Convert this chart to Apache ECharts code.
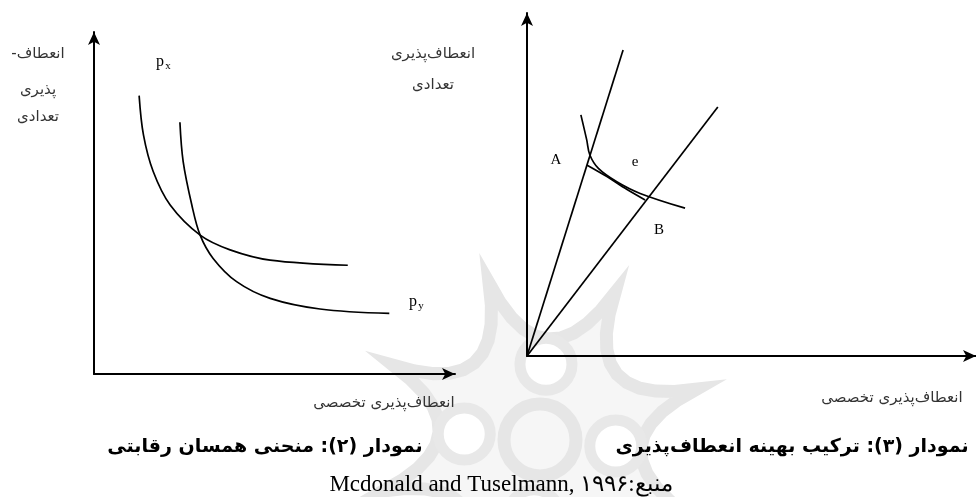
<!DOCTYPE html>
<html>
<head>
<meta charset="utf-8">
<script src="https://cdn.jsdelivr.net/npm/echarts@6/dist/echarts.min.js"></script>
<style>
  html, body { margin: 0; padding: 0; background: #fff; }
  #main { width: 976px; height: 497px; }
</style>
</head>
<body>
<div id="main"></div>
<script>
  // graph (2): competitive iso-curves
  var pxCurve = [[12.5, 81.4], [13.7, 69.9], [16.4, 59.2], [21.1, 49.4], [29.4, 40.6], [37.7, 36.3], [48.8, 33.3], [70.3, 31.8]];
  var pyCurve = [[23.8, 73.6], [24.7, 62.1], [27.1, 49.4], [29.4, 40.6], [33.0, 33.8], [39.5, 27.0], [48.8, 22.1], [62.6, 19.0], [81.8, 17.7]];

  // graph (3): optimal combination
  var rayA = [[0, 0], [21.4, 89.2]];
  var rayB = [[0, 0], [42.5, 72.6]];
  var isoE = [[12.0, 70.3], [13.3, 63.0], [14.0, 58.6], [15.9, 54.7], [20.0, 50.8], [25.2, 47.4], [35.2, 43.1]];
  var chordAB = [[13.3, 55.7], [17.8, 52.3], [22.2, 48.6], [26.3, 45.5]];

  var xTitle = 'انعطاف‌پذیری تخصصی';
  var caption2 = 'نمودار (۲): منحنی همسان رقابتی';
  var caption3 = 'نمودار (۳): ترکیب بهینه انعطاف‌پذیری';
  var source = 'Mcdonald and Tuselmann, ۱۹۹۶:منبع';

  var fa = 'DejaVu Sans';
  var serif = 'Liberation Serif';

  var myChart = echarts.init(document.getElementById('main'));

  function axis(idx) {
    return {
      type: 'value', gridIndex: idx, min: 0, max: 100,
      axisLine: { lineStyle: { color: '#000', width: 2 }, symbol: ['none', 'arrow'], symbolSize: [9, 13] },
      axisTick: { show: false }, axisLabel: { show: false }, splitLine: { show: false }
    };
  }

  function curve(idx, data, w) {
    return {
      type: 'line', xAxisIndex: idx, yAxisIndex: idx, data: data,
      smooth: 0.35, showSymbol: false, silent: true,
      lineStyle: { color: '#000', width: w || 1.7 }
    };
  }

  function txt(x, y, s, size, font, weight, color) {
    return {
      type: 'text', x: x, y: y, z: 10,
      style: {
        text: s, fontSize: size, fontFamily: font, fontWeight: weight || 'normal',
        fill: color || '#000', align: 'center', verticalAlign: 'middle'
      }
    };
  }

  // faint background emblem (watermark): outlined star with concave edges + rings
  function emblem(cx, cy) {
    var pts = [], n = 8, r = 165, start = -108;
    for (var i = 0; i < n; i++) {
      var a0 = (start + i * 360 / n) * Math.PI / 180;
      var a1 = (start + (i + 1) * 360 / n) * Math.PI / 180;
      var m = (start + (i + 0.5) * 360 / n) * Math.PI / 180;
      var p0 = [cx + r * Math.cos(a0), cy + r * Math.sin(a0)];
      var p1 = [cx + r * Math.cos(a1), cy + r * Math.sin(a1)];
      var q = [cx + 50 * Math.cos(m), cy + 50 * Math.sin(m)];
      for (var t = 0; t < 1; t += 0.1) {
        var u = 1 - t;
        pts.push([u * u * p0[0] + 2 * u * t * q[0] + t * t * p1[0],
                  u * u * p0[1] + 2 * u * t * q[1] + t * t * p1[1]]);
      }
    }
    var els = [{ type: 'polygon', z: -10, silent: true, shape: { points: pts },
      style: { fill: '#f6f6f6', stroke: '#e6e6e6', lineWidth: 13 } }];
    els.push({ type: 'circle', z: -9, silent: true, shape: { cx: cx, cy: cy, r: 36 },
      style: { fill: 'none', stroke: '#e6e6e6', lineWidth: 13 } });
    for (var k = 0; k < 4; k++) {
      var b = (start + 22.5 + k * 90) * Math.PI / 180;
      els.push({
        type: 'circle', z: -9, silent: true,
        shape: { cx: cx + 76 * Math.cos(b), cy: cy + 76 * Math.sin(b), r: 26 },
        style: { fill: '#fff', stroke: '#e8e8e8', lineWidth: 11 }
      });
    }
    return els;
  }

  var graphics = emblem(540, 440).concat([
    // left y label
    txt(38, 54, 'انعطاف-\u200F', 15, fa, 'normal', '#333'),
    txt(38, 90, 'پذیری', 15, fa, 'normal', '#333'),
    txt(38, 117, 'تعدادی', 15, fa, 'normal', '#333'),
    // right y label
    txt(433, 54, 'انعطاف‌پذیری', 15, fa, 'normal', '#333'),
    txt(433, 85, 'تعدادی', 15, fa, 'normal', '#333'),
    // x labels
    txt(384, 403, xTitle, 15, fa, 'normal', '#333'),
    txt(892, 398, xTitle, 15, fa, 'normal', '#333'),
    // curve labels
    txt(160, 62, 'p', 16, serif),
    txt(168, 66, 'x', 11, serif),
    txt(413, 302, 'p', 16, serif),
    txt(421, 306, 'y', 11, serif),
    txt(556, 160, 'A', 15, serif),
    txt(635, 162, 'e', 15, serif),
    txt(659, 230, 'B', 15, serif),
    // captions
    txt(265, 447, caption2, 19, fa, 'bold'),
    txt(792, 447, caption3, 19, fa, 'bold'),
    txt(501, 485, source, 23, serif)
  ]);

  var options = {
    animation: false,
    grid: [
      { left: 94, top: 32, width: 361, height: 342 },
      { left: 527, top: 13, width: 452, height: 343 }
    ],
    xAxis: [axis(0), axis(1)],
    yAxis: [axis(0), axis(1)],
    series: [
      curve(0, pxCurve),
      curve(0, pyCurve),
      curve(1, rayA),
      curve(1, rayB),
      curve(1, isoE),
      curve(1, chordAB)
    ],
    graphic: graphics
  };
  myChart.setOption(options);
</script>
</body>
</html>
